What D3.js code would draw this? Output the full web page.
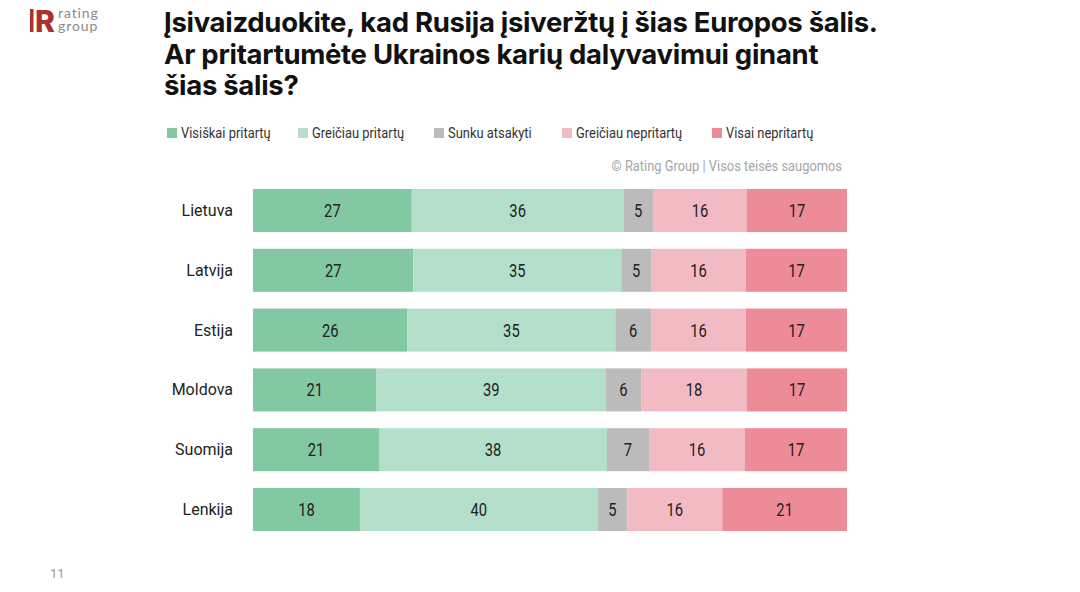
<!DOCTYPE html>
<html>
<head>
<meta charset="utf-8">
<script src="https://cdn.jsdelivr.net/npm/d3@7"></script>
<style>
  body { margin: 0; background: #fff; }
  svg { display: block; }
  .narrow { font-family: "Roboto", sans-serif; }
</style>
</head>
<body>
<svg id="chart"></svg>
<script>
const countries = ["Lietuva", "Latvija", "Estija", "Moldova", "Suomija", "Lenkija"];
const answers = ["Visiškai pritartų", "Greičiau pritartų", "Sunku atsakyti", "Greičiau nepritartų", "Visai nepritartų"];
const colors = ["#82c8a2", "#b4dfca", "#bbbbbb", "#f2bac2", "#ee8b99"];
const fullyAgree = [27, 27, 26, 21, 21, 18];
const ratherAgree = [36, 35, 35, 39, 38, 40];
const hardToSay = [5, 5, 6, 6, 7, 5];
const ratherDisagree = [16, 16, 16, 18, 16, 16];
const fullyDisagree = [17, 17, 17, 17, 17, 21];

const W = 1080, H = 592;
const svg = d3.select("#chart").attr("width", W).attr("height", H);

// rows built from the series arrays (each bar normalised to its own total)
const series = [fullyAgree, ratherAgree, hardToSay, ratherDisagree, fullyDisagree];
const rows = countries.map((c, i) => {
  const vals = series.map(s => s[i]);
  const total = d3.sum(vals);
  let acc = 0;
  const segs = vals.map((v, k) => {
    const s = { k, v, x0: acc / total, x1: (acc + v) / total };
    acc += v;
    return s;
  });
  return { c, segs };
});

// logo
const logo = svg.append("g").attr("transform", "translate(30,9)");
logo.append("rect").attr("x", 0).attr("y", 0).attr("width", 3.5).attr("height", 23).attr("fill", "#a8322f");
logo.append("text").attr("x", 5).attr("y", 23)
  .attr("font-family", "Inter, sans-serif").attr("font-weight", 800)
  .attr("font-size", 30).attr("fill", "#a8322f").text("R");
const lt = logo.append("text")
  .attr("font-family", "Lato, sans-serif").attr("font-size", 14)
  .attr("letter-spacing", 0.9).attr("fill", "#8a8a8a");
lt.append("tspan").attr("x", 28).attr("y", 9).text("rating");
lt.append("tspan").attr("x", 28).attr("y", 21.5).text("group");

// title
const titleLines = [
  "Įsivaizduokite, kad Rusija įsiveržtų į šias Europos šalis.",
  "Ar pritartumėte Ukrainos karių dalyvavimui ginant",
  "šias šalis?"
];
svg.append("g").selectAll("text").data(titleLines).join("text")
  .attr("x", 164).attr("y", (d, i) => 32 + i * 31.5)
  .attr("font-family", "Inter, sans-serif").attr("font-weight", 700)
  .attr("font-size", 27.5).attr("letter-spacing", -0.3).attr("fill", "#111")
  .text(d => d);

// legend
const legendX = [167, 298, 434, 562, 712];
const leg = svg.append("g").selectAll("g").data(answers).join("g")
  .attr("transform", (d, i) => `translate(${legendX[i]},133)`);
leg.append("rect").attr("x", 0).attr("y", -5).attr("width", 10).attr("height", 10)
  .attr("fill", (d, i) => colors[i]);
leg.append("text").attr("class", "narrow")
  .attr("transform", "translate(14,5) scale(0.89,1)")
  .attr("font-size", 14.5).attr("fill", "#333").text(d => d);

svg.append("text").attr("class", "narrow")
  .attr("transform", "translate(842,171) scale(0.92,1)").attr("text-anchor", "end")
  .attr("font-size", 14).attr("fill", "#a5a5a5")
  .text("© Rating Group | Visos teisės saugomos");

// scales
const x = d3.scaleLinear().domain([0, 1]).range([253, 847]);
const y = d3.scaleBand().domain(countries).range([180, 540]).paddingInner(0.28).paddingOuter(0.15);

const rowG = svg.append("g").selectAll("g").data(rows).join("g")
  .attr("transform", d => `translate(0,${y(d.c)})`);

rowG.append("text")
  .attr("x", 233).attr("y", y.bandwidth() / 2).attr("dy", "0.35em")
  .attr("text-anchor", "end")
  .attr("font-family", "Roboto, sans-serif").attr("font-size", 16).attr("fill", "#222")
  .text(d => d.c);

const seg = rowG.selectAll("g.seg").data(d => d.segs).join("g").attr("class", "seg");
seg.append("rect")
  .attr("x", d => x(d.x0)).attr("width", d => x(d.x1) - x(d.x0))
  .attr("y", 0).attr("height", y.bandwidth())
  .attr("fill", d => colors[d.k]);
seg.append("text").attr("class", "narrow")
  .attr("transform", d => `translate(${(x(d.x0) + x(d.x1)) / 2},${y.bandwidth() / 2}) scale(0.82,1)`)
  .attr("dy", "0.36em")
  .attr("text-anchor", "middle").attr("font-size", 18).attr("fill", "#222")
  .text(d => d.v);

// page number
svg.append("text").attr("x", 50).attr("y", 578)
  .attr("font-family", "Roboto, sans-serif").attr("font-size", 13).attr("fill", "#999").text("11");
</script>
</body>
</html>
